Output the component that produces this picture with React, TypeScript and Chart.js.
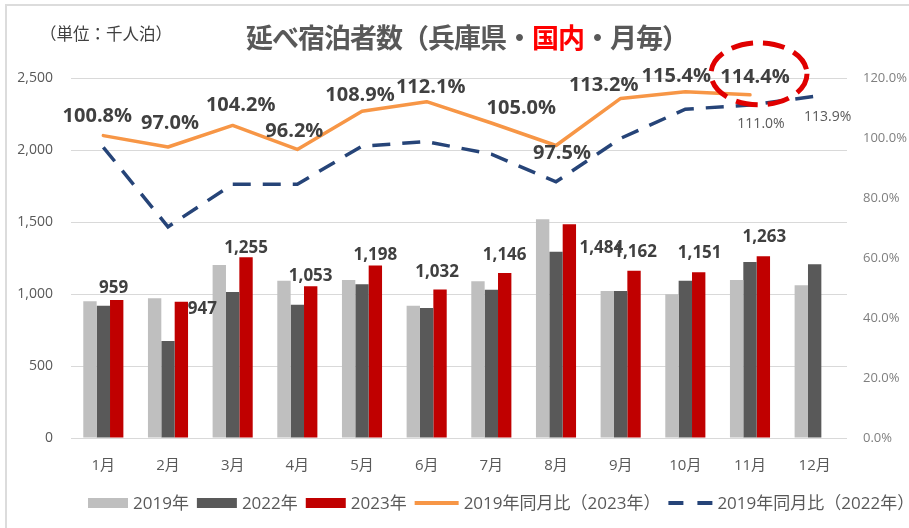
import React, { useEffect, useRef } from 'react';
import { Chart, registerables } from 'chart.js';

Chart.register(...registerables);

// ---- data ----
const months = ['1月', '2月', '3月', '4月', '5月', '6月', '7月', '8月', '9月', '10月', '11月', '12月'];
const guests2019 = [950, 970, 1201, 1092, 1097, 919, 1088, 1519, 1021, 998, 1097, 1060];
const guests2022 = [919, 674, 1014, 926, 1067, 903, 1030, 1294, 1021, 1092, 1222, 1206];
const guests2023 = [959, 947, 1255, 1053, 1198, 1032, 1146, 1484, 1162, 1151, 1263, null];
const ratio2023 = [100.8, 97.0, 104.2, 96.2, 108.9, 112.1, 105.0, 97.5, 113.2, 115.4, 114.4, null];
const ratio2022 = [96.9, 70.4, 84.6, 84.6, 97.3, 98.8, 94.6, 85.4, 99.9, 109.6, 111.0, 113.9];
const leftTicks = [0, 500, 1000, 1500, 2000, 2500];
const rightTicks = [0, 20, 40, 60, 80, 100, 120];
const seriesLabels = ['2019年', '2022年', '2023年', '2019年同月比（2023年）', '2019年同月比（2022年）'];

// ---- label placement (offsets from the mark, px) ----
const barLabelOffsets: [number, number][] = [
  [-3, -12], [21, 8], [0, -9], [0, -10], [0, -10], [-3, -17],
  [0, -18], [32, 24], [1, -19], [1, -19], [1, -19], [0, -14],
];
const ratio23LabelOffsets: [number, number][] = [
  [-6, -19], [2, -24], [8, -20], [-3, -18], [-2, -16], [4, -14],
  [30, -15], [6, 8], [-17, -13], [-9, -16], [5, -18], [0, -18],
];
const ratio22LabelOffsets: ([number, number] | null)[] = [
  null, null, null, null, null, null, null, null, null, null, [11, 19], [13, 21],
];
const highlightIndex = 10;

const FONT = "'Open Sans', 'Noto Sans CJK JP', sans-serif";
const C2019 = '#BFBFBF';
const C2022 = '#595959';
const C2023 = '#C00000';
const CORANGE = '#F79646';
const CBLUE = '#264478';

const labelPlugin = {
  id: 'customLabels',
  afterDatasetsDraw(chart: any) {
    const ctx = chart.ctx;
    ctx.save();
    ctx.textAlign = 'center';
    ctx.textBaseline = 'middle';
    // bar labels 2023
    const barMeta = chart.getDatasetMeta(2);
    ctx.font = `bold 17px ${FONT}`;
    ctx.fillStyle = '#404040';
    barMeta.data.forEach((el: any, i: number) => {
      const v = guests2023[i];
      if (v == null) return;
      const [dx, dy] = barLabelOffsets[i];
      ctx.fillText(v.toLocaleString('en-US'), el.x + dx, el.y + dy);
    });
    // ratio 2023 labels
    const m3 = chart.getDatasetMeta(3);
    ctx.font = `bold 20px ${FONT}`;
    ctx.fillStyle = '#404040';
    m3.data.forEach((el: any, i: number) => {
      const v = ratio2023[i];
      if (v == null) return;
      const [dx, dy] = ratio23LabelOffsets[i];
      ctx.fillText(v.toFixed(1) + '%', el.x + dx, el.y + dy);
    });
    // ratio 2022 labels
    const m4 = chart.getDatasetMeta(4);
    ctx.font = `14px ${FONT}`;
    ctx.fillStyle = '#595959';
    m4.data.forEach((el: any, i: number) => {
      const off = ratio22LabelOffsets[i];
      const v = ratio2022[i];
      if (!off || v == null) return;
      ctx.fillText(v.toFixed(1) + '%', el.x + off[0], el.y + off[1]);
    });
    // highlight ellipse
    const p = m3.data[highlightIndex];
    if (p) {
      ctx.beginPath();
      ctx.ellipse(p.x + 9, p.y - 21, 48, 31, 0, 0, Math.PI * 2);
      ctx.setLineDash([22, 10]);
      ctx.lineWidth = 5;
      ctx.strokeStyle = '#E00000';
      ctx.stroke();
    }
    ctx.restore();
  },
  afterDraw(chart: any) {
    const ctx = chart.ctx;
    ctx.save();
    ctx.font = `17px ${FONT}`;
    ctx.textAlign = 'left';
    ctx.textBaseline = 'middle';
    const cy = 503;
    let x = 88;
    chart.data.datasets.forEach((ds: any) => {
      if (ds.type === 'line') {
        ctx.beginPath();
        ctx.setLineDash(ds.borderDash && ds.borderDash.length ? [15, 14] : []);
        ctx.lineWidth = 4;
        ctx.strokeStyle = ds.borderColor;
        ctx.moveTo(x, cy);
        ctx.lineTo(x + 44, cy);
        ctx.stroke();
        x += 44;
      } else {
        ctx.fillStyle = ds.backgroundColor;
        ctx.fillRect(x, cy - 5, 40, 10);
        x += 40;
      }
      ctx.setLineDash([]);
      x += 5;
      ctx.fillStyle = '#595959';
      ctx.fillText(ds.label, x, cy + 1);
      x += ctx.measureText(ds.label).width + 8;
    });
    ctx.restore();
  },
};

export default function App() {
  const ref = useRef<HTMLCanvasElement>(null);
  useEffect(() => {
    if (!ref.current) return;
    const chart = new Chart(ref.current, {
      type: 'bar',
      data: {
        labels: months,
        datasets: [
          { type: 'bar', label: seriesLabels[0], data: guests2019, backgroundColor: C2019, yAxisID: 'y', order: 1, categoryPercentage: 0.62, barPercentage: 1 } as any,
          { type: 'bar', label: seriesLabels[1], data: guests2022, backgroundColor: C2022, yAxisID: 'y', order: 1, categoryPercentage: 0.62, barPercentage: 1 } as any,
          { type: 'bar', label: seriesLabels[2], data: guests2023, backgroundColor: C2023, yAxisID: 'y', order: 1, categoryPercentage: 0.62, barPercentage: 1 } as any,
          { type: 'line', label: seriesLabels[3], data: ratio2023, borderColor: CORANGE, backgroundColor: CORANGE, borderWidth: 3.5, pointRadius: 0, tension: 0, fill: false, yAxisID: 'y1', order: 0, borderJoinStyle: 'round', borderCapStyle: 'round' } as any,
          { type: 'line', label: seriesLabels[4], data: ratio2022, borderColor: CBLUE, backgroundColor: CBLUE, borderWidth: 3.5, borderDash: [18, 12], pointRadius: 0, tension: 0, fill: false, yAxisID: 'y1', order: 0 } as any,
        ],
      },
      options: {
        responsive: false,
        animation: false,
        layout: { padding: { top: 78, bottom: 50, left: 0, right: 0 } },
        plugins: {
          legend: { display: false },
          title: { display: false },
          tooltip: { enabled: false },
        },
        scales: {
          x: {
            grid: { display: false, drawTicks: false },
            border: { display: false },
            ticks: { color: '#595959', font: { size: 15, family: FONT }, padding: 19, maxRotation: 0, autoSkip: false },
            afterFit: (s: any) => { s.height = 40; },
          },
          y: {
            position: 'left',
            min: 0,
            max: 2500,
            afterBuildTicks: (axis: any) => { axis.ticks = leftTicks.map((v) => ({ value: v })); },
            grid: { color: '#D9D9D9', lineWidth: 1, drawTicks: false },
            border: { display: false },
            ticks: { color: '#595959', font: { size: 14, family: FONT }, padding: 18, callback: (v: any) => Number(v).toLocaleString('en-US') },
            afterFit: (s: any) => { s.width = 71; },
          },
          y1: {
            position: 'right',
            min: 0,
            max: 120,
            afterBuildTicks: (axis: any) => { axis.ticks = rightTicks.map((v) => ({ value: v })); },
            grid: { display: false, drawTicks: false },
            border: { display: false },
            ticks: { color: '#7F7F7F', font: { size: 13, family: FONT }, padding: 16, callback: (v: any) => Number(v).toFixed(1) + '%' },
            afterFit: (s: any) => { s.width = 62; },
          },
        } as any,
      },
      plugins: [labelPlugin],
    });
    return () => chart.destroy();
  }, []);

  return (
    <div style={{ position: 'absolute', left: 0, top: 0, width: 909, height: 528, background: '#fff', overflow: 'hidden' }}>
      <div style={{ position: 'absolute', left: 5, top: 4, width: 940, height: 560, border: '2px solid #DCDCDC', boxSizing: 'border-box' }} />
      <canvas ref={ref} width={909} height={528} style={{ position: 'absolute', left: 0, top: 0, width: 909, height: 528 }} />
      <div style={{ position: 'absolute', left: 40, top: 25, fontFamily: "'Noto Sans CJK JP', sans-serif", fontSize: 16.5, lineHeight: 1, color: '#404040', whiteSpace: 'nowrap' }}>
        （単位：千人泊）
      </div>
      <div style={{ position: 'absolute', left: 246, top: 23, fontFamily: "'Noto Sans CJK JP', sans-serif", fontSize: 27, letterSpacing: -1, fontWeight: 'bold', lineHeight: 1, color: '#595959', whiteSpace: 'nowrap' }}>
        延べ宿泊者数（兵庫県・<span style={{ color: '#FF0000' }}>国内</span>・月毎）
      </div>
    </div>
  );
}
